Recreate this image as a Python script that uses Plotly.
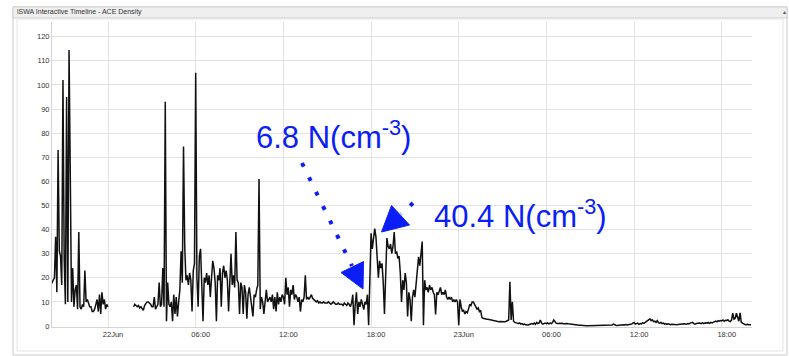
import pandas as pd
import plotly.graph_objects as go

# ACE solar-wind proton density, 5-minute cadence, one row per hour
density_jun21 = [  # 21 Jun 20:00 - 23:55
    17, 17, 18, 19, 20, 37, 14, 73, 31, 29, 17, 102,
    28, 9, 95, 10, 114.5, 63, 10, 24, 8, 15, 17, 7,
    39, 8, 7, 9, 8, 23, 10, 11, 9, 8, 8, 6,
    6, 7, 9, 11, 6, 13, 5, 14, 9, 11, 7, 9,
]
density_jun22 = [  # 22 Jun 00:00 - 23:55
    8, None, None, None, None, None, None, None, None, None, None, None,
    None, None, None, None, None, None, None, None, None, 8, 9, 8.5,
    8, 8.5, 7.5, 8, 7, 6.5, 8.5, 9.5, 10, 10, 9.5, 9,
    8, 8, 12, 7, 8, 9, 18, 8, 9, 24, 8, 93,
    2, 18, 9, 8, 10, 2, 13, 5, 12, 4, 10, 15,
    31, 18, 74.5, 33, 19, 21, 17, 22, 19, 6, 23, 26,
    105, 20, 8, 29, 32, 15, 2, 20, 18, 22, 17, 21,
    12, 20, 27, 24, 18, 2, 21, 19, 24, 8, 22, 25,
    20, 23, 19, 6, 17, 30, 17, 21, 16, 39, 19, 18,
    5, 18, 16, 5, 17, 14, 3, 13, 16, 12, 10, 4,
    13, 12, 15, 17, 61, 7, 12, 10, 5, 12, 15, 10,
    11, 12, 10, 13, 7, 12, 6, 14, 9, 12, 10, 13,
    12, 9, 20, 13, 16, 8, 15, 13, 17, 11, 13, 12,
    10, 12, 6, 11, 10, 12, 21, 11, 12, 11, 12, 13,
    11.5, 11, 10.5, 10, 10.5, 9.5, 10, 9.5, 9.5, 10, 9.5, 9.5,
    9.5, 10, 9.5, 9, 9.5, 10, 9.5, 9, 9, 9.5, 9, 9,
    9, 8.5, 9.5, 9, 8.5, 9.5, 9, 8, 9.5, 13, 0.3, 9,
    14, 5, 10, 8, 11, 9, 6.8, 10, 9, 13, 0.3, 19,
    38.5, 32, 36, 40.4, 37, 26, 20, 27, 24, 26, 18, 5,
    20, 36.5, 33, 32, 34, 30, 33, 39, 30, 31, 28, 29,
    22, 10, 19, 15, 22, 18, 4, 14, 11, 2, 12, 15,
    12, 19, 24, 28.7, 25, 30, 35, 0.3, 19, 15, 16, 14,
    17, 15, 16, 14, 13, 4.8, 14, 13, 15, 16, 13, 14,
    13, 15, 12, 11, 12, 11, 12, 10, 11, 10, 11, 10,
]
density_jun23 = [  # 23 Jun 00:00 - 20:00
    0.3, 11, 8, 6, 6.5, 5, 6, 5.5, 7, 9, 8.5, 10,
    10, 9, 8, 7, 7.5, 6, 6.5, 3.5, 3.2, 3, 3, 2.8,
    2.8, 2.7, 2.5, 2.3, 2.2, 2, 2, 1.9, 2, 1.8, 1.9, 1.8,
    1.8, 1.9, 1.8, 2, 2.3, 2.5, 18.4, 2.5, 10, 2, 1.5, 1.2,
    1.2, 1, 1.3, 0.8, 1, 0.6, 0.8, 0.5, 0.3, 0.4, 0.6, 0.8,
    1, 0.8, 1.2, 0.7, 1.5, 1.0, 1.3, 2.5, 1.2, 0.8, 1.0, 1.2,
    1, 1.3, 0.9, 1.2, 1, 1.4, 2.5, 1.8, 1.2, 1, 1.1, 0.9,
    1, 1.1, 0.9, 1, 0.8, 1, 0.9, 0.8, 0.7, 0.9, 0.8, 0.6,
    0.6, 0.5, 0.4, 0.3, 0.3, 0.2, 0.1, 0.1, 0.1, 0.1, 0.1, 0.1,
    0.1, 0.2, 0.1, 0.1, 0.2, 0.1, 0.1, 0.1, 0.2, 0.1, 0.1, 0.2,
    0.2, 0.1, 0.2, 0.3, 0.2, 0.3, 0.4, 0.8, 0.4, 0.3, 0.2, 0.3,
    0.3, 0.4, 0.3, 0.5, 0.4, 0.6, 0.4, 0.5, 0.3, 0.6, 0.8, 1.2,
    1.5, 0.8, 1.0, 1.2, 0.7, 1.0, 0.9, 1.3, 1.1, 1.5, 1.8, 2.2,
    2.5, 3, 2.2, 2.6, 1.8, 2.0, 1.5, 2.2, 1.4, 1.2, 1.5, 1.0,
    1.2, 0.8, 1.0, 0.7, 0.9, 0.6, 0.5, 0.7, 0.6, 0.5, 0.6, 0.5,
    0.6, 0.7, 0.6, 0.8, 0.7, 0.9, 0.8, 0.7, 1.0, 0.9, 1.2, 1.4,
    1.5, 1.0, 0.8, 1.0, 1.1, 0.9, 1.2, 1.0, 1.3, 1.1, 1.2, 1.0,
    1.2, 1.4, 1.1, 1.5, 1.3, 1.6, 1.8, 2.0, 1.7, 2.2, 2.0, 2.3,
    2.1, 2.5, 2.0, 2.4, 2.3, 2.6, 2.0, 1.8, 2.5, 5.3, 2.8, 3.2,
    5.3, 3.5, 2.0, 5.5, 1.5, 1.2, 0.8, 0.6, 0.5, 0.7, 0.5, 0.6,
    0.5,
]

series_start = "2015-06-21 20:00"
x_tick_times = ["2015-06-22 00:00", "2015-06-22 06:00", "2015-06-22 12:00",
                "2015-06-22 18:00", "2015-06-23 00:00", "2015-06-23 06:00",
                "2015-06-23 12:00", "2015-06-23 18:00"]
x_tick_labels = ["22Jun", "06:00", "12:00", "18:00", "23Jun", "06:00", "12:00", "18:00"]
y_tick_values = [0, 10, 20, 30, 40, 50, 60, 70, 80, 90, 100, 110, 120]

panel_title = "iSWA Interactive Timeline - ACE Density"
quiet_label = "6.8 N(cm<sup>-3</sup>)"
shock_label = "40.4 N(cm<sup>-3</sup>)"

density = density_jun21 + density_jun22 + density_jun23
times = pd.date_range(series_start, periods=len(density), freq="5min")

W, H = 789, 356
ML, MR, MT, MB = 52, 37, 22, 29
PW, PH = W - ML - MR, H - MT - MB


def px(x):
    return (x - ML) / PW


def py(y):
    return (H - MB - y) / PH


BLUE = "#0a1ef5"
FONT = "Liberation Sans, Arial, Helvetica, sans-serif"

fig = go.Figure()
fig.add_trace(go.Scatter(
    x=times, y=density, mode="lines",
    line=dict(color="#111111", width=1.5),
    connectgaps=False, hoverinfo="skip",
))

shapes = [
    # outer panel and header bar
    dict(type="rect", xref="paper", yref="paper", layer="below",
         x0=px(13), x1=px(787), y0=py(355), y1=py(7),
         line=dict(color="#c9c9c9", width=1), fillcolor="white"),
    dict(type="rect", xref="paper", yref="paper", layer="below",
         x0=px(13), x1=px(787), y0=py(18), y1=py(7),
         line=dict(color="#cfcfcf", width=1), fillcolor="#efefef"),
    dict(type="rect", xref="paper", yref="paper", layer="below",
         x0=px(17), x1=px(783), y0=py(351), y1=py(19),
         line=dict(color="#e4e4e4", width=1), fillcolor="rgba(0,0,0,0)"),
    # dotted pointer to the pre-shock density
    dict(type="line", xref="paper", yref="paper",
         x0=px(302), y0=py(163), x1=px(352), y1=py(266),
         line=dict(color=BLUE, width=4, dash="4px,12px")),
    dict(type="path", xref="paper", yref="paper",
         path=f"M {px(363)} {py(289)} L {px(341)} {py(272.5)} L {px(363.5)} {py(261.5)} Z",
         fillcolor=BLUE, line=dict(color=BLUE, width=1)),
    # dotted pointer to the shock peak
    dict(type="line", xref="paper", yref="paper",
         x0=px(413), y0=py(203), x1=px(401), y1=py(214),
         line=dict(color=BLUE, width=4, dash="4px,12px")),
    dict(type="path", xref="paper", yref="paper",
         path=f"M {px(381.5)} {py(232)} L {px(391.5)} {py(205.5)} L {px(409.5)} {py(225)} Z",
         fillcolor=BLUE, line=dict(color=BLUE, width=1)),
]

annotations = [
    dict(text=panel_title, xref="paper", yref="paper", x=px(15), y=py(12.5),
         xanchor="left", yanchor="middle", showarrow=False,
         font=dict(size=7, color="#333333", family=FONT)),
    dict(text="▲", xref="paper", yref="paper", x=px(784), y=py(12.5),
         xanchor="center", yanchor="middle", showarrow=False,
         font=dict(size=5, color="#555555", family=FONT)),
    dict(text=quiet_label, xref="paper", yref="paper", x=px(254), y=py(135),
         xanchor="left", yanchor="middle", showarrow=False,
         font=dict(size=31, color=BLUE, family=FONT)),
    dict(text=shock_label, xref="paper", yref="paper", x=px(432), y=py(214),
         xanchor="left", yanchor="middle", showarrow=False,
         font=dict(size=31, color=BLUE, family=FONT)),
]

fig.update_layout(
    width=W, height=H,
    margin=dict(l=ML, r=MR, t=MT, b=MB, pad=0),
    paper_bgcolor="white", plot_bgcolor="white",
    showlegend=False,
    font=dict(family=FONT),
    shapes=shapes, annotations=annotations,
    xaxis=dict(
        type="date",
        range=["2015-06-21 20:10", "2015-06-23 20:04"],
        tickmode="array", tickvals=x_tick_times, ticktext=x_tick_labels,
        showgrid=True, gridcolor="#e2e2e2", gridwidth=1,
        showline=True, linecolor="#d4d4d4", linewidth=1,
        zeroline=False, ticks="", ticklabelshift=5,
        tickfont=dict(size=7.5, color="#333333", family=FONT),
    ),
    yaxis=dict(
        range=[-0.41, 126.1],
        tickmode="array", tickvals=y_tick_values,
        showgrid=True, gridcolor="#e2e2e2", gridwidth=1,
        showline=True, linecolor="#d4d4d4", linewidth=1,
        zeroline=False, ticks="",
        tickfont=dict(size=7.5, color="#333333", family=FONT),
    ),
)

fig.write_html("out.html", config={"displayModeBar": False})
